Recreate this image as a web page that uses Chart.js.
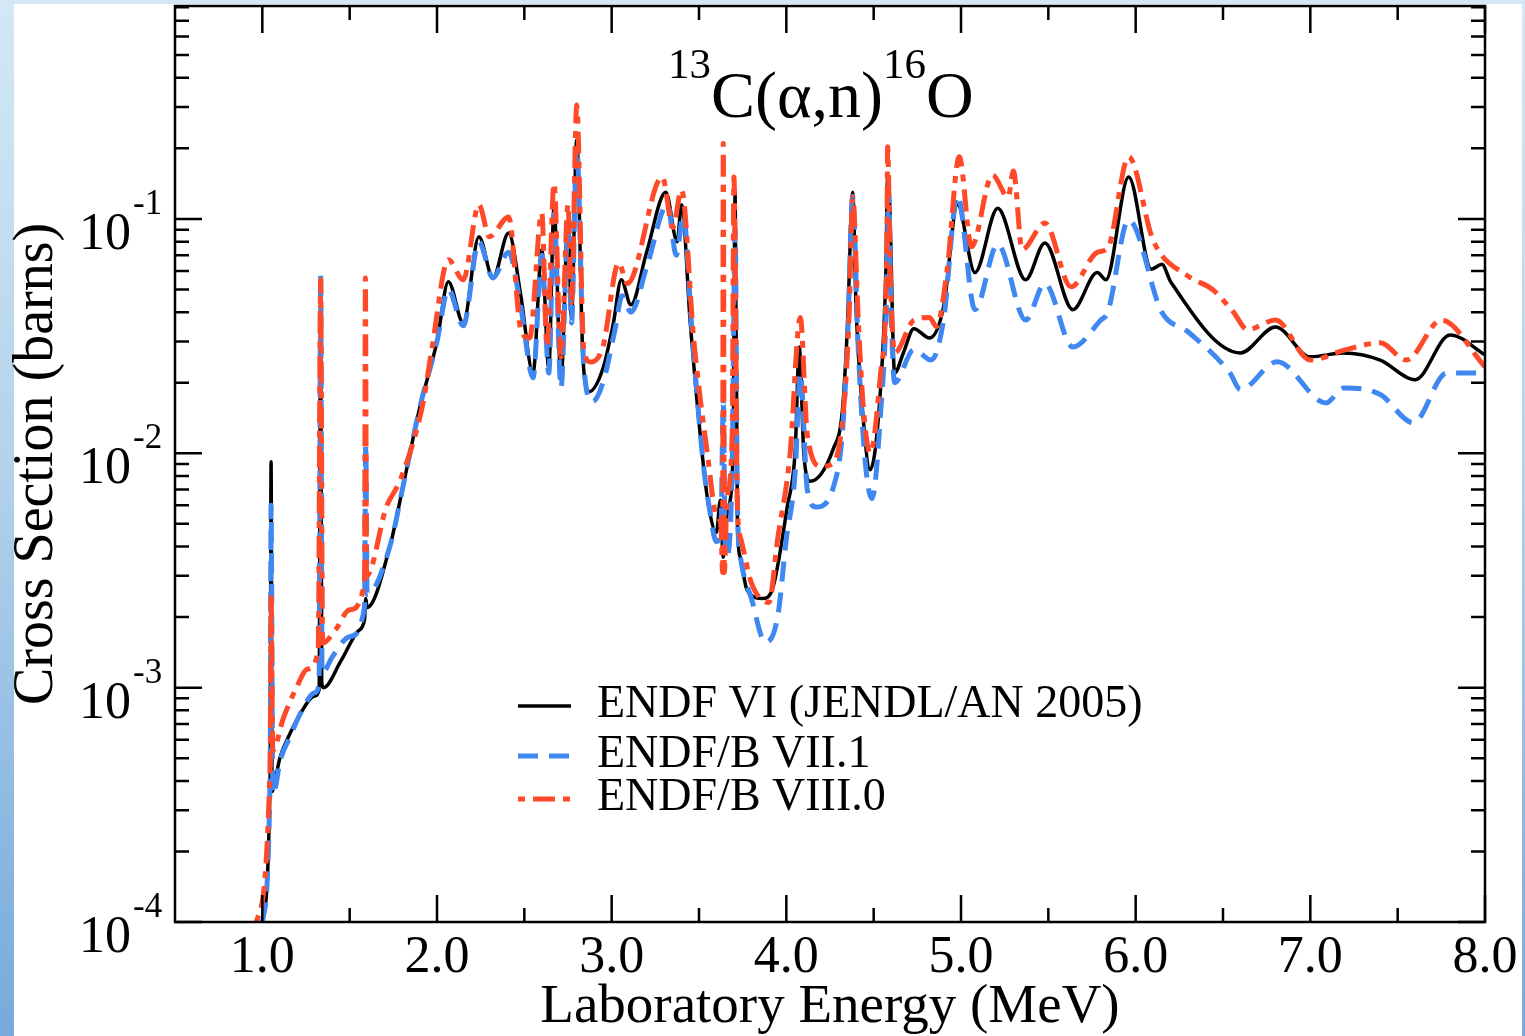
<!DOCTYPE html>
<html><head><meta charset="utf-8">
<script src="https://cdn.jsdelivr.net/npm/chart.js@4.4.1/dist/chart.umd.min.js"></script>
<style>
html,body{margin:0;padding:0;}
body{width:1525px;height:1036px;overflow:hidden;position:relative;background:linear-gradient(to bottom,#d3e8f4 0%,#b3d2ec 45%,#76aadb 100%);}
#paper{position:absolute;left:14px;top:4px;width:1508px;height:1032px;background:#fff;}
#c{position:absolute;left:0;top:0;width:1525px;height:1036px;}
</style></head><body>
<div id="paper"></div>
<canvas id="c" width="1525" height="1036"></canvas>
<script>
// ---- data (MeV, barns) ----
const seriesNames = ['ENDF VI (JENDL/AN 2005)', 'ENDF/B VII.1', 'ENDF/B VIII.0'];

const E_VI = [1.000,1.045,1.050,1.056,1.07,1.10,1.16,1.22,1.30,1.325,1.334,1.340,1.35,1.45,1.55,1.585,1.592,1.60,1.73,1.81,1.90,2.00,2.065,2.15,2.24,2.32,2.41,2.48,2.55,2.60,2.64,2.67,2.71,2.75,2.77,2.80,2.835,2.87,2.95,3.01,3.055,3.11,3.20,3.31,3.375,3.40,3.45,3.51,3.55,3.60,3.622,3.639,3.662,3.695,3.707,3.72,3.736,3.776,3.868,3.925,4.005,4.051,4.074,4.10,4.137,4.27,4.32,4.35,4.38,4.40,4.43,4.48,4.54,4.57,4.58,4.59,4.62,4.67,4.73,4.82,4.90,4.98,5.08,5.21,5.37,5.48,5.64,5.78,5.83,5.96,6.09,6.15,6.20,6.60,6.80,7.00,7.19,7.40,7.60,7.80,8.00];
const XS_VI = [1.0e-4,4.3e-4,9.2e-3,3.6e-4,3.9e-4,5.0e-4,6.4e-4,7.8e-4,9.2e-4,9.8e-4,0.05,1.05e-3,1.0e-3,1.3e-3,1.75e-3,1.95e-3,2.4e-3,2.2e-3,4.0e-3,7.5e-3,0.0155,0.030,0.054,0.036,0.084,0.056,0.087,0.047,0.022,0.074,0.023,0.112,0.0206,0.097,0.038,0.217,0.026,0.0183,0.023,0.036,0.055,0.043,0.072,0.130,0.080,0.115,0.036,0.0114,0.0063,0.0046,0.0063,0.0036,0.0056,0.010,0.13,0.005,0.0036,0.0026,0.0024,0.0027,0.0059,0.0104,0.0284,0.010,0.0076,0.0105,0.015,0.035,0.130,0.040,0.0174,0.0085,0.0192,0.06,0.151,0.126,0.022,0.0268,0.034,0.031,0.042,0.115,0.059,0.111,0.055,0.079,0.041,0.059,0.055,0.151,0.061,0.064,0.054,0.0268,0.0346,0.0258,0.0268,0.025,0.0206,0.032,0.0263];

const E_VII = [1.000,1.045,1.050,1.060,1.075,1.10,1.16,1.22,1.30,1.325,1.334,1.342,1.40,1.50,1.585,1.592,1.60,1.73,1.81,1.90,2.00,2.065,2.15,2.24,2.32,2.41,2.48,2.55,2.60,2.64,2.67,2.71,2.75,2.77,2.80,2.84,2.89,2.95,3.02,3.06,3.11,3.20,3.32,3.37,3.41,3.46,3.52,3.56,3.60,3.625,3.639,3.65,3.662,3.69,3.707,3.72,3.74,3.80,3.88,3.95,4.00,4.05,4.08,4.12,4.17,4.27,4.32,4.35,4.38,4.41,4.45,4.49,4.54,4.575,4.585,4.60,4.62,4.73,4.83,4.90,4.98,5.08,5.21,5.37,5.48,5.64,5.80,5.84,5.96,6.15,6.30,6.54,6.60,6.81,7.09,7.19,7.40,7.59,7.78,8.00];
const XS_VII = [1.0e-4,4.3e-4,6.0e-3,3.5e-4,3.75e-4,4.8e-4,6.2e-4,7.8e-4,9.5e-4,1.05e-3,0.058,1.15e-3,1.35e-3,1.65e-3,2.2e-3,0.011,2.5e-3,4.0e-3,7.5e-3,0.0155,0.030,0.050,0.035,0.080,0.056,0.072,0.042,0.021,0.070,0.022,0.105,0.019,0.090,0.036,0.200,0.024,0.0166,0.020,0.034,0.047,0.040,0.062,0.115,0.070,0.104,0.033,0.0097,0.0058,0.0042,0.0045,0.0164,0.0040,0.0037,0.009,0.09,0.006,0.0035,0.0024,0.00156,0.0020,0.0043,0.0082,0.022,0.007,0.0059,0.0072,0.012,0.03,0.125,0.03,0.0095,0.0064,0.015,0.05,0.13,0.04,0.020,0.0277,0.025,0.037,0.126,0.041,0.078,0.037,0.053,0.0284,0.037,0.040,0.099,0.040,0.033,0.022,0.0187,0.0246,0.0164,0.019,0.0178,0.0135,0.022,0.022];

const E_VIII = [0.966,1.045,1.050,1.060,1.12,1.19,1.26,1.32,1.334,1.345,1.42,1.50,1.585,1.590,1.597,1.71,1.79,1.92,1.97,2.065,2.15,2.24,2.30,2.41,2.48,2.53,2.60,2.63,2.67,2.71,2.75,2.77,2.80,2.84,2.88,2.95,3.04,3.09,3.29,3.35,3.40,3.47,3.55,3.60,3.625,3.635,3.639,3.645,3.66,3.69,3.70,3.72,3.74,3.80,3.90,3.95,4.02,4.08,4.12,4.20,4.27,4.33,4.36,4.38,4.41,4.44,4.48,4.54,4.575,4.58,4.595,4.62,4.73,4.82,4.86,4.92,4.99,5.06,5.18,5.27,5.30,5.35,5.48,5.63,5.78,5.84,5.96,6.10,6.30,6.44,6.56,6.64,6.80,7.00,7.20,7.40,7.55,7.75,8.00];
const XS_VIII = [1.0e-4,4.8e-4,2.5e-3,5.4e-4,7.4e-4,9.8e-4,1.2e-3,1.45e-3,0.055,1.55e-3,1.77e-3,2.15e-3,2.8e-3,0.056,3.0e-3,5.9e-3,7.7e-3,0.0164,0.0277,0.067,0.055,0.115,0.084,0.102,0.0337,0.031,0.106,0.0285,0.142,0.0258,0.115,0.044,0.306,0.0277,0.0245,0.0285,0.065,0.053,0.151,0.092,0.133,0.0305,0.0097,0.0054,0.005,0.0031,0.21,0.0031,0.0064,0.012,0.151,0.006,0.0043,0.0028,0.00231,0.0043,0.0097,0.038,0.012,0.0088,0.0091,0.016,0.04,0.124,0.04,0.016,0.010,0.022,0.07,0.203,0.06,0.0268,0.037,0.038,0.0347,0.06,0.184,0.076,0.154,0.124,0.16,0.074,0.096,0.0513,0.072,0.075,0.184,0.081,0.057,0.050,0.040,0.0337,0.037,0.025,0.0276,0.0296,0.025,0.037,0.0234];

// axis tick definitions
const xMajorTicks = [1,2,3,4,5,6,7,8];
const xMinorTicks = [1.5,2.5,3.5,4.5,5.5,6.5,7.5];
const yMajorTicks = [1e-4,1e-3,1e-2,1e-1];
const yTickBase = ['10','10','10','10'];
const yTickExp = ['-4','-3','-2','-1'];

const FONT = '"Liberation Serif", "Times New Roman", serif';

const toPts = (xs, ys) => xs.map((x, i) => ({x: x, y: ys[i]}));

const styles = [
  {color: '#000000', width: 3.5, dash: []},
  {color: '#3f88f2', width: 5, dash: [20, 11]},
  {color: '#ff4a2a', width: 5, dash: [7, 8, 22, 8]}
];

const framePlugin = {
  id: 'framePlugin',
  afterDatasetsDraw(chart) {
    const {ctx, chartArea: a, scales} = chart;
    const xs = scales.x, ys = scales.y;
    ctx.save();
    ctx.strokeStyle = '#000';
    ctx.lineWidth = 2.5;
    ctx.strokeRect(a.left, a.top, a.right - a.left, a.bottom - a.top);
    ctx.beginPath();
    const tick = (x1, y1, x2, y2) => { ctx.moveTo(x1, y1); ctx.lineTo(x2, y2); };
    xMajorTicks.forEach(v => { const p = xs.getPixelForValue(v); tick(p, a.bottom, p, a.bottom - 27); tick(p, a.top, p, a.top + 27); });
    xMinorTicks.forEach(v => { const p = xs.getPixelForValue(v); tick(p, a.bottom, p, a.bottom - 14); tick(p, a.top, p, a.top + 14); });
    for (let e = -4; e <= -1; e++) {
      for (let m = 1; m <= 9; m++) {
        const v = m * Math.pow(10, e);
        if (v > ys.max) continue;
        const p = ys.getPixelForValue(v);
        if (p < a.top + 1) continue;
        const L = m === 1 ? 27 : 14;
        tick(a.left, p, a.left + L, p); tick(a.right, p, a.right - L, p);
      }
    }
    ctx.stroke();

    // y tick labels with superscripts
    ctx.fillStyle = '#000';
    yMajorTicks.forEach((v, i) => {
      const p = ys.getPixelForValue(v);
      ctx.font = '52px ' + FONT; ctx.textAlign = 'right'; ctx.textBaseline = 'alphabetic';
      ctx.fillText(yTickBase[i], 131, p + 30);
      ctx.font = '35px ' + FONT; ctx.textAlign = 'left';
      ctx.fillText(yTickExp[i], 133, p - 5);
    });

    // title 13C(α,n)16O
    let tx = 668;
    const parts = [['13', 43, 78], ['C(\u03B1,n)', 66, 117], ['16', 43, 78], ['O', 66, 117]];
    ctx.textAlign = 'left'; ctx.textBaseline = 'alphabetic';
    parts.forEach(([t, s, by]) => {
      ctx.font = s + 'px ' + FONT;
      ctx.fillText(t, tx, by);
      tx += ctx.measureText(t).width;
    });

    // legend
    const rows = [706, 756, 799];
    chart.data.datasets.forEach((ds, i) => {
      ctx.save();
      ctx.strokeStyle = ds.borderColor; ctx.lineWidth = ds.borderWidth;
      ctx.setLineDash(ds.borderDash || []);
      ctx.beginPath(); ctx.moveTo(518, rows[i]); ctx.lineTo(571, rows[i]); ctx.stroke();
      ctx.restore();
      ctx.font = '46px ' + FONT; ctx.textAlign = 'left'; ctx.textBaseline = 'middle';
      ctx.fillText(ds.label, 597, rows[i] - 1);
    });
    ctx.restore();
  }
};

const datasets = [
  [E_VI, XS_VI], [E_VII, XS_VII], [E_VIII, XS_VIII]
].map(([xs, ys], i) => ({
  label: seriesNames[i],
  data: toPts(xs, ys),
  borderColor: styles[i].color,
  borderWidth: styles[i].width,
  borderDash: styles[i].dash,
  pointRadius: 0,
  fill: false,
  cubicInterpolationMode: 'monotone',
  order: 3 - i
}));

new Chart(document.getElementById('c'), {
  type: 'line',
  data: {datasets},
  options: {
    responsive: false,
    devicePixelRatio: 1,
    animation: false,
    layout: {padding: {left: 0, top: 6, right: 40, bottom: 0}},
    plugins: {legend: {display: false}, tooltip: {enabled: false}},
    scales: {
      x: {
        type: 'linear', min: 0.5, max: 8.0,
        grid: {display: false, drawTicks: false},
        border: {display: false},
        ticks: {
          stepSize: 0.5, autoSkip: false, maxRotation: 0, minRotation: 0, padding: 5,
          color: '#000', font: {family: FONT, size: 52},
          callback: (v) => Math.abs(v - Math.round(v)) < 1e-6 && xMajorTicks.includes(Math.round(v)) ? Number(v).toFixed(1) : ''
        },
        title: {display: true, text: 'Laboratory Energy (MeV)', color: '#000', font: {family: FONT, size: 55, lineHeight: 1}, padding: {top: 0, bottom: 1}},
        afterFit(s) { s.height = 114; s.paddingLeft = 0; s.paddingRight = 0; }
      },
      y: {
        type: 'logarithmic', min: 1e-4, max: 0.81,
        grid: {display: false, drawTicks: false},
        border: {display: false},
        ticks: {display: false},
        title: {display: true, text: 'Cross Section (barns)', color: '#000', font: {family: FONT, size: 56, lineHeight: 1}, padding: {top: 9, bottom: 0}},
        afterFit(s) { s.width = 175; s.paddingTop = 0; s.paddingBottom = 0; }
      }
    }
  },
  plugins: [framePlugin]
});
</script>
</body></html>
